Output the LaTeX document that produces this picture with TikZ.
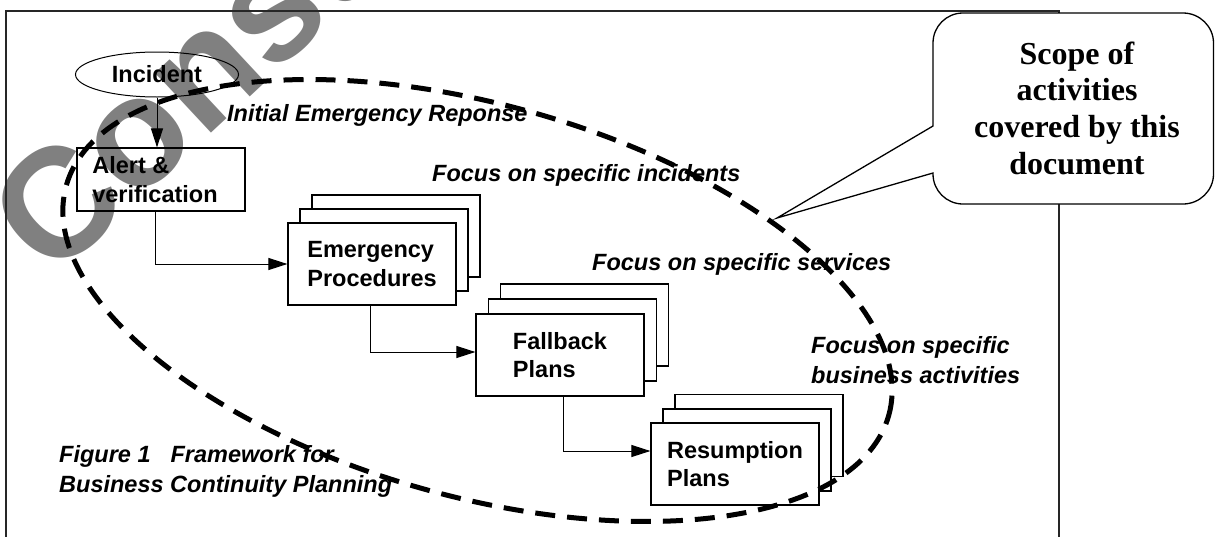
\documentclass[tikz,border=0pt]{standalone}
\usepackage{fontspec}
\setmainfont{Liberation Sans}
\newfontfamily\serifbold{Liberation Serif}
\usetikzlibrary{arrows.meta,shapes.geometric}
\newcommand\boxfont{\fontsize{23.5}{28.5}\selectfont\bfseries}
\newcommand\labfont{\fontsize{23.5}{28.5}\selectfont\bfseries\itshape}
\begin{document}
\begin{tikzpicture}[x=1pt,y=-1pt,
  framestyle/.style={line width=1.2pt,draw=black!85},
  boxstyle/.style={draw,line width=1.2pt,fill=white,minimum width=168pt,minimum height=82pt,align=left,inner sep=0pt,font=\boxfont},
  backbox/.style={boxstyle},
  labstyle/.style={font=\labfont,inner sep=0pt,anchor=base west},
  arr/.style={line width=1pt,-{Triangle[length=19pt,width=12pt]}},
  scopeline/.style={line width=5pt,dash pattern=on 20pt off 12pt},
  callout/.style={line width=1.3pt,fill=white,draw=black}]
\clip (0,0) rectangle (1215,536);
% watermark
\node[text=black!50,font=\fontsize{155}{155}\selectfont\bfseries,rotate=43,anchor=base west,inner sep=0pt] (wm) at (52,282) {Consultation};
% frame
\draw[framestyle] (6,540) -- (6,11) -- (1059,11) -- (1059,540);
% incident
\node[draw,ellipse,line width=1pt,minimum width=163pt,minimum height=45pt,inner sep=0pt,font=\boxfont] (inc) at (157,74.5) {Incident};
\node[boxstyle,fill=none,minimum height=63pt] (al) at (161,179.5) {Alert \&\\verification\hspace*{12pt}};
% emergency stack
\node[backbox] (em3) at (396,236) {};
\node[backbox] (em2) at (384,250) {};
\node[boxstyle] (em1) at (372,264) {Emergency\\Procedures};
% fallback stack
\node[backbox] (fb3) at (584.5,325) {};
\node[backbox] (fb2) at (572.5,340) {};
\node[boxstyle] (fb1) at (560,355) {Fallback\\Plans};
% resumption stack
\node[backbox] (rs3) at (759,435.5) {};
\node[backbox] (rs2) at (747,450) {};
\node[boxstyle] (rs1) at (735,464) {Resumption\\Plans};
% connectors
\draw[arr] (inc.south) -- (inc.south |- al.north);
\draw[arr] ([xshift=-6pt]al.south) |- (em1.west);
\draw[arr] ([xshift=-2pt]em1.south) |- ([yshift=3pt]fb1.west);
\draw[arr] ([xshift=3pt]fb1.south) |- ([yshift=13pt]rs1.west);
% labels
\node[labstyle] (ier) at (227,121) {Initial Emergency Reponse};
\node[labstyle] (fsi) at (432,181) {Focus on specific incidents};
\node[labstyle] (fss) at (592,270) {Focus on specific services};
\node[labstyle] (fba1) at (811,353) {Focus on specific};
\node[labstyle] (fba2) at (811,383) {business activities};
\node[labstyle] (fig1) at (59,462) {Figure 1\hspace{13.5pt} Framework for};
\node[labstyle] (fig2) at (59,492) {Business Continuity Planning};
% dashed scope ellipse
\draw[scopeline,rotate around={-15.6:(477.5,300.5)}] (477.5,300.5) ellipse [x radius=427pt,y radius=196pt];
% callout
\draw[callout] (933,126) -- (777,218) -- (933,173) -- (933,174)
  .. controls (933,190.6) and (946.4,204) .. (963,204) -- (1183,204)
  .. controls (1199.6,204) and (1213.5,190.6) .. (1213.5,174) -- (1213.5,43)
  .. controls (1213.5,26.4) and (1199.6,13) .. (1183,13) -- (963,13)
  .. controls (946.4,13) and (933,26.4) .. (933,43) -- cycle;
\node[font=\serifbold\bfseries\fontsize{32}{36.7}\selectfont,align=center] (scope) at (1077,108) {Scope of\\activities\\covered by this\\document};
\end{tikzpicture}
\end{document}
